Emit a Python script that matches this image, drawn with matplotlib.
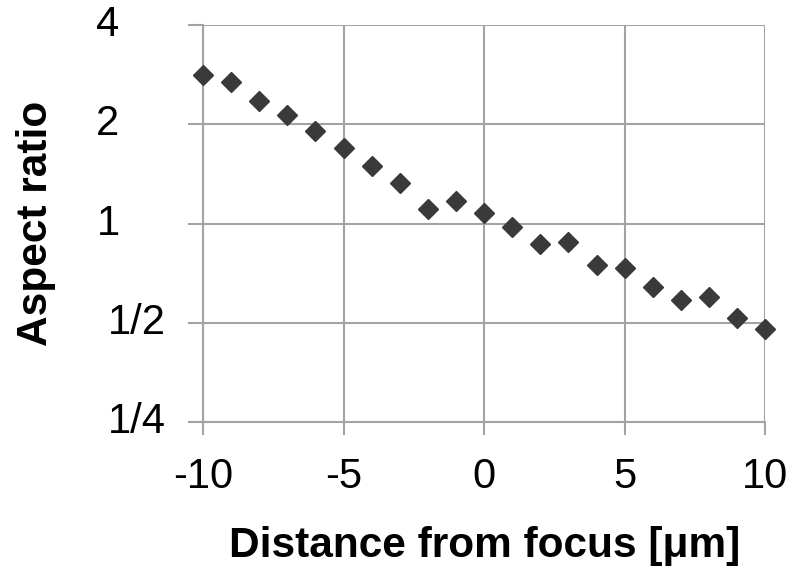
import matplotlib.pyplot as plt
import numpy as np

# distance from focus in micrometres and the measured aspect ratio
distance = [-10, -9, -8, -7, -6, -5, -4, -3, -2, -1, 0, 1, 2, 3, 4, 5, 6, 7, 8, 9, 10]
aspect = [2.82, 2.69, 2.35, 2.14, 1.91, 1.69, 1.49, 1.33, 1.11, 1.17, 1.08,
          0.975, 0.87, 0.88, 0.75, 0.735, 0.644, 0.586, 0.598, 0.518, 0.48]

yticks = [0.25, 0.5, 1, 2, 4]
ytick_labels = ["1/4", "1/2", "1", "2", "4"]
xticks = [-10, -5, 0, 5, 10]

plt.rcParams['font.family'] = ['Liberation Sans', 'DejaVu Sans']

fig = plt.figure(figsize=(7.93, 5.8), dpi=100)
ax = fig.add_axes([0.256, 0.272, 0.709, 0.685])

grid_col = '#a3a3a3'
ax.plot(distance, aspect, linestyle='none', marker='D', markersize=10,
        color='#3a3a3a', zorder=3, clip_on=False)

ax.set_yscale('log', base=2)
ax.set_ylim(0.25, 4)
ax.set_xlim(-10, 10)
ax.set_yticks(yticks)
ax.set_yticklabels([])
ax.minorticks_off()
ax.set_xticks(xticks)
ax.set_xticklabels([str(v) for v in xticks])

ax.grid(True, color=grid_col, linewidth=1.5)
for side in ['top', 'right']:
    ax.spines[side].set_visible(False)
for side in ['left', 'bottom']:
    ax.spines[side].set_color(grid_col)
    ax.spines[side].set_linewidth(1.5)

ax.tick_params(axis='x', direction='out', length=9, width=1.5,
               color=grid_col, labelsize=30, pad=16)
ax.tick_params(axis='y', direction='out', length=11, width=1.5, color=grid_col)

# y labels sit off to the left, single digits further out than fractions
for v, lab in zip(yticks, ytick_labels):
    xpos = -0.118 if '/' in lab else -0.169
    ax.text(xpos, v, lab, transform=ax.get_yaxis_transform(),
            ha='center', va='center', fontsize=30)

ax.set_xlabel('Distance from focus [\u03bcm]', fontsize=30.5, fontweight='bold')
ax.set_ylabel('Aspect ratio', fontsize=30.5, fontweight='bold')
ax.xaxis.set_label_coords(0.5, -0.26)
ax.yaxis.set_label_coords(-0.262, 0.5)

fig.savefig('out.png', dpi=100)
